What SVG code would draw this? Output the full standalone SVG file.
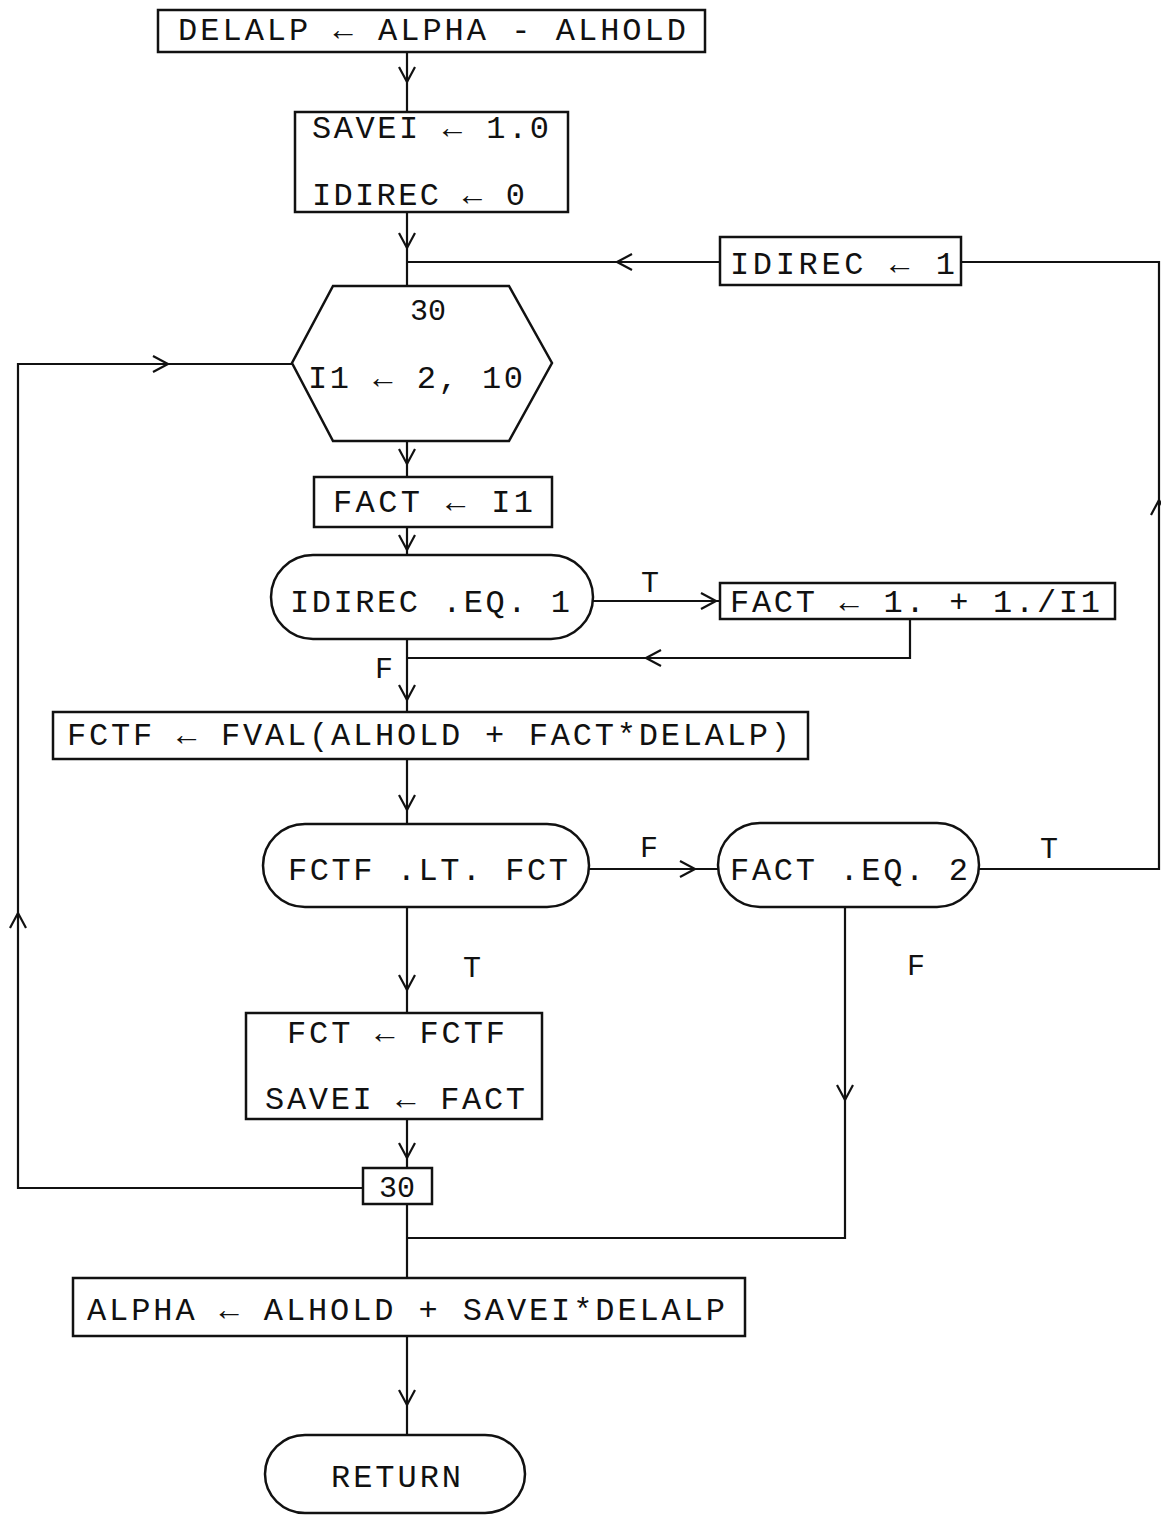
<svg xmlns="http://www.w3.org/2000/svg" xmlns:xlink="http://www.w3.org/1999/xlink" width="1161" height="1515" viewBox="0 0 1161 1515">
<style>
.bx{fill:none;stroke:#111;stroke-width:2.5}
.ln{fill:none;stroke:#111;stroke-width:2.2}
.ah{fill:none;stroke:#111;stroke-width:2.2;stroke-linejoin:miter}
.t{font-family:"Liberation Mono","DejaVu Sans Mono",monospace;font-size:32px;fill:#111}
.lb{font-family:"Liberation Mono","DejaVu Sans Mono",monospace;font-size:30px;fill:#111;text-anchor:middle}
</style>
<defs>
<path id="ad" class="ah" d="M-8,-15 L0,0 L8,-15"/>
<path id="au" class="ah" d="M-8,15 L0,0 L8,15"/>
<path id="al" class="ah" d="M15,-8 L0,0 L15,8"/>
<path id="ar" class="ah" d="M-15,-8 L0,0 L-15,8"/>
</defs>
<rect width="1161" height="1515" fill="#fff"/>
<g id="connectors">
<path class="ln" d="M407,52 V112"/><use href="#ad" x="407" y="82"/>
<path class="ln" d="M407,212 V286"/><use href="#ad" x="407" y="248"/>
<path class="ln" d="M407,262 H720"/><use href="#al" x="617" y="262"/>
<path class="ln" d="M961,262 H1159 V869 H979"/><use href="#au" x="1159" y="500"/>
<path class="ln" d="M407,441 V477"/><use href="#ad" x="407" y="464"/>
<path class="ln" d="M407,527 V555"/><use href="#ad" x="407" y="550"/>
<path class="ln" d="M593,601 H720"/><use href="#ar" x="716" y="601"/>
<path class="ln" d="M910,619 V658 H407"/><use href="#al" x="646" y="658"/>
<path class="ln" d="M407,639 V712"/><use href="#ad" x="407" y="700"/>
<path class="ln" d="M407,759 V824"/><use href="#ad" x="407" y="810"/>
<path class="ln" d="M589,869 H718"/><use href="#ar" x="695" y="869"/>
<path class="ln" d="M407,907 V1013"/><use href="#ad" x="407" y="990"/>
<path class="ln" d="M845,907 V1238 H407"/><use href="#ad" x="845" y="1100"/>
<path class="ln" d="M407,1119 V1168"/><use href="#ad" x="407" y="1158"/>
<path class="ln" d="M363,1188 H18 V364 H292"/><use href="#au" x="18" y="913"/><use href="#ar" x="168" y="364"/>
<path class="ln" d="M407,1204 V1278"/>
<path class="ln" d="M407,1336 V1435"/><use href="#ad" x="407" y="1405"/>
<text class="lb" x="650" y="592">T</text>
<text class="lb" x="384" y="678">F</text>
<text class="lb" x="649" y="857">F</text>
<text class="lb" x="1049" y="858">T</text>
<text class="lb" x="472" y="977">T</text>
<text class="lb" x="916" y="975">F</text>
</g>
<g id="n_delalp">
<rect class="bx" x="158" y="10" width="547" height="42"/>
<text class="t" x="178" y="40" textLength="508">DELALP ← ALPHA - ALHOLD</text>
</g>
<g id="n_init">
<rect class="bx" x="295" y="112" width="273" height="100"/>
<text class="t" x="312" y="138" textLength="237">SAVEI ← 1.0</text>
<text class="t" x="312" y="205" textLength="213">IDIREC ← 0</text>
</g>
<g id="n_idirec1">
<rect class="bx" x="720" y="237" width="241" height="48"/>
<text class="t" x="730" y="274" textLength="225">IDIREC ← 1</text>
</g>
<g id="n_loop">
<polygon class="bx" points="333,286 509,286 552,363 509,441 333,441 292,363"/>
<text class="lb" x="428" y="320">30</text>
<text class="t" x="308" y="388" textLength="215">I1 ← 2, 10</text>
</g>
<g id="n_fact">
<rect class="bx" x="314" y="477" width="238" height="50"/>
<text class="t" x="333" y="512" textLength="200">FACT ← I1</text>
</g>
<g id="n_dec_idirec">
<rect class="bx" x="271" y="555" width="322" height="84" rx="42" ry="42"/>
<text class="t" x="290" y="612" textLength="280">IDIREC .EQ. 1</text>
</g>
<g id="n_fact2">
<rect class="bx" x="720" y="583" width="395" height="36"/>
<text class="t" x="730" y="612" textLength="370">FACT ← 1. + 1./I1</text>
</g>
<g id="n_fctf">
<rect class="bx" x="53" y="712" width="755" height="47"/>
<text class="t" x="67" y="745" textLength="723">FCTF ← FVAL(ALHOLD + FACT*DELALP)</text>
</g>
<g id="n_dec_lt">
<rect class="bx" x="263" y="824" width="326" height="83" rx="42" ry="42"/>
<text class="t" x="288" y="880" textLength="280">FCTF .LT. FCT</text>
</g>
<g id="n_dec_eq2">
<rect class="bx" x="718" y="823" width="261" height="84" rx="42" ry="42"/>
<text class="t" x="730" y="880" textLength="238">FACT .EQ. 2</text>
</g>
<g id="n_fct">
<rect class="bx" x="246" y="1013" width="296" height="106"/>
<text class="t" x="287" y="1043" textLength="218">FCT ← FCTF</text>
<text class="t" x="265" y="1109" textLength="260">SAVEI ← FACT</text>
</g>
<g id="n_30">
<rect class="bx" x="363" y="1168" width="69" height="36"/>
<text class="lb" x="397" y="1197">30</text>
</g>
<g id="n_alpha">
<rect class="bx" x="73" y="1278" width="672" height="58"/>
<text class="t" x="87" y="1320" textLength="638">ALPHA ← ALHOLD + SAVEI*DELALP</text>
</g>
<g id="n_return">
<rect class="bx" x="265" y="1435" width="260" height="78" rx="40" ry="39"/>
<text class="t" x="331" y="1487" textLength="130">RETURN</text>
</g>
</svg>
